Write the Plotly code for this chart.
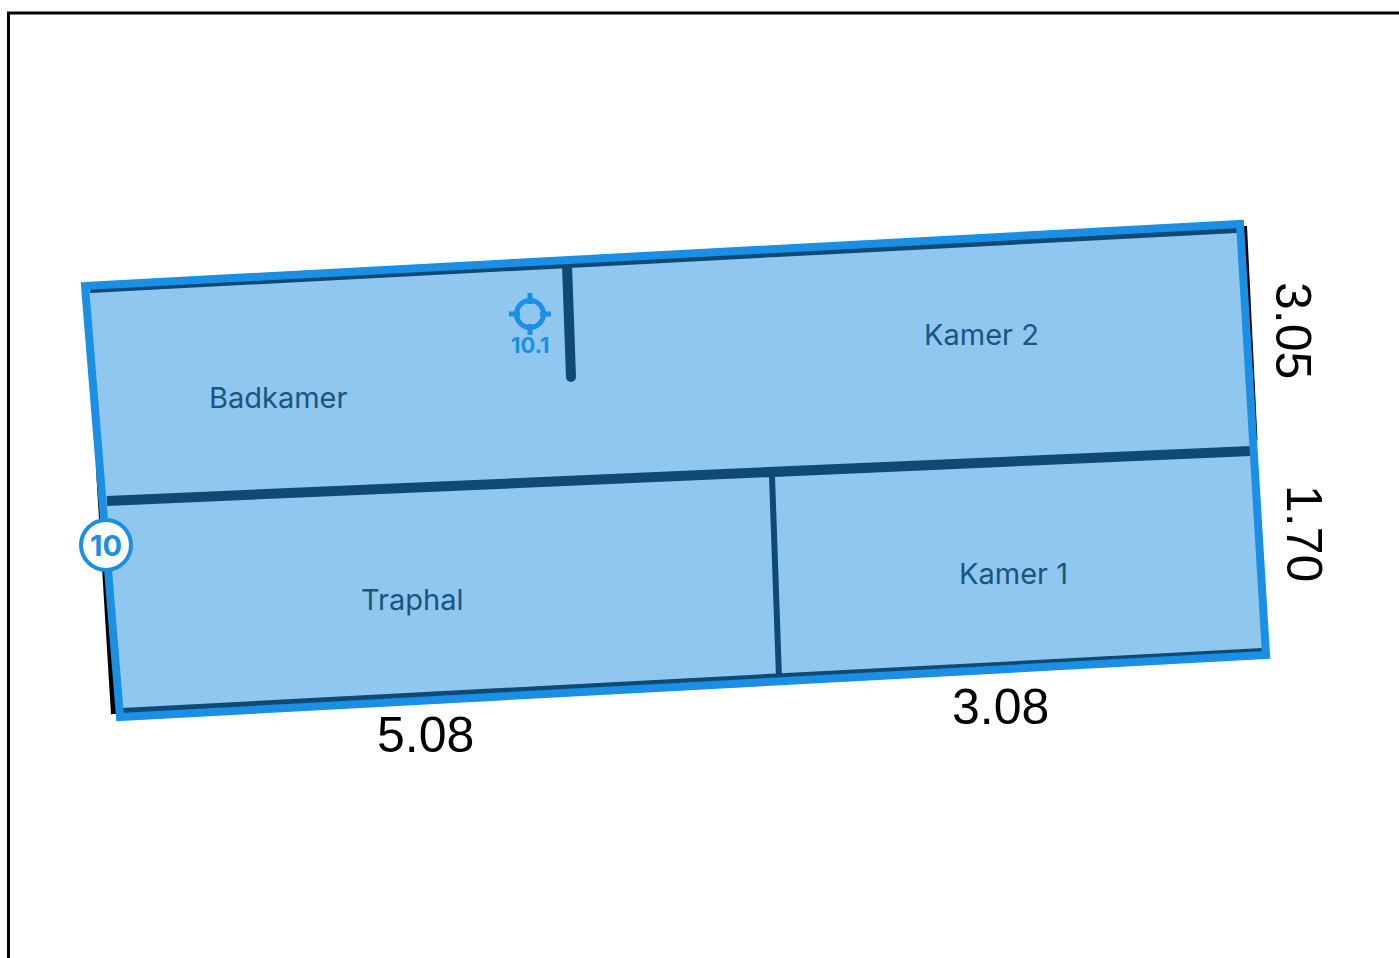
import plotly.graph_objects as go

# floor plan geometry (pixel-like plan units)
outline_x = [85, 1240, 1266, 120, 85]
outline_y = [286, 224, 655, 717, 286]
frame_x = [8.5, 8.5, 1399]
frame_y = [958, 13, 13]
shadow_left_x = [99, 114]
shadow_left_y = [470, 714]
shadow_right_x = [1245, 1255.5]
shadow_right_y = [226, 440]
wall_top_x = [90, 1237]
wall_top_y = [290, 230]
wall_bottom_x = [122, 1263]
wall_bottom_y = [711, 651]
wall_mid_x = [107, 1251]
wall_mid_y = [501, 451]
wall_stub_x = [567, 571]
wall_stub_y = [265, 377]
wall_div_x = [772, 779]
wall_div_y = [476, 678]

room_names = ["Badkamer", "Kamer 2", "Traphal", "Kamer 1"]
room_x = [278, 981, 412, 1013]
room_y = [397, 334, 599, 573]

dim_labels = ["5.08", "3.08", "3.05", "1.70"]
dim_x = [425, 1000, 1293, 1304]
dim_y = [735, 707, 330, 533]
dim_angle = [0, 0, 90, 90]

badge_x = [106]
badge_y = [545]
badge_label = ["10"]
target_x = [530]
target_y = [314]
target_label = ["10.1"]
target_label_y = [345]
tick_h_x = [509, 520, None, 540, 551]
tick_h_y = [314, 314, None, 314, 314]
tick_v_x = [530, 530, None, 530, 530]
tick_v_y = [293, 304, None, 324, 335]

BLUE = "#1B8FE3"
FILL = "#90C7EF"
DARK = "#0E4A73"
TEXT = "#1A5580"

fig = go.Figure()


def line(x, y, color, width):
    fig.add_trace(go.Scatter(x=x, y=y, mode="lines", hoverinfo="skip",
                             line=dict(color=color, width=width)))


line(frame_x, frame_y, "#000000", 3)
line(shadow_left_x, shadow_left_y, "#000000", 6)
line(shadow_right_x, shadow_right_y, "#000000", 4)
fig.add_trace(go.Scatter(x=outline_x, y=outline_y, mode="lines", fill="toself",
                         fillcolor=FILL, hoverinfo="skip",
                         line=dict(color=FILL, width=0)))
line(wall_top_x, wall_top_y, DARK, 6)
line(wall_bottom_x, wall_bottom_y, DARK, 6)
line(wall_mid_x, wall_mid_y, DARK, 10)
line(wall_div_x, wall_div_y, DARK, 6)
line(wall_stub_x, wall_stub_y, DARK, 10)
fig.add_trace(go.Scatter(x=wall_stub_x[1:], y=wall_stub_y[1:], mode="markers", hoverinfo="skip",
                         marker=dict(color=DARK, size=10)))
# the path runs one edge past its start so the closing corner joins cleanly
fig.add_trace(go.Scatter(x=outline_x + outline_x[1:2], y=outline_y + outline_y[1:2],
                         mode="lines", hoverinfo="skip",
                         line=dict(color=BLUE, width=8)))
fig.add_trace(go.Scatter(x=badge_x, y=badge_y, mode="markers", hoverinfo="skip",
                         marker=dict(color="white", size=50, line=dict(color=BLUE, width=4))))
fig.add_trace(go.Scatter(x=target_x, y=target_y, mode="markers", hoverinfo="skip",
                         marker=dict(color="rgba(0,0,0,0)", size=27, line=dict(color=BLUE, width=5))))
line(tick_h_x, tick_h_y, BLUE, 5)
line(tick_v_x, tick_v_y, BLUE, 5)

for t, x, y in zip(room_names, room_x, room_y):
    fig.add_annotation(x=x, y=y, text=t, showarrow=False,
                       font=dict(family="Inter", size=29, color=TEXT))
for t, x, y, a in zip(dim_labels, dim_x, dim_y, dim_angle):
    fig.add_annotation(x=x, y=y, text=t, showarrow=False, textangle=a,
                       font=dict(family="Liberation Sans", size=50, color="#000000"))
for t, x, y in zip(badge_label, badge_x, badge_y):
    fig.add_annotation(x=x, y=y, text="<b>%s</b>" % t, showarrow=False,
                       font=dict(family="Inter", size=29, color=BLUE))
for t, x, y in zip(target_label, target_x, target_label_y):
    fig.add_annotation(x=x, y=y, text="<b>%s</b>" % t, showarrow=False,
                       font=dict(family="Inter", size=22, color=BLUE))

fig.update_layout(
    width=1399, height=958, showlegend=False,
    margin=dict(l=0, r=0, t=0, b=0),
    paper_bgcolor="white", plot_bgcolor="white",
    xaxis=dict(range=[0, 1399], visible=False, fixedrange=True),
    yaxis=dict(range=[958, 0], visible=False, fixedrange=True),
)
fig.write_html("out.html", config={"displayModeBar": False},
               post_script="document.body.style.margin='0';document.body.style.overflow='hidden';")
